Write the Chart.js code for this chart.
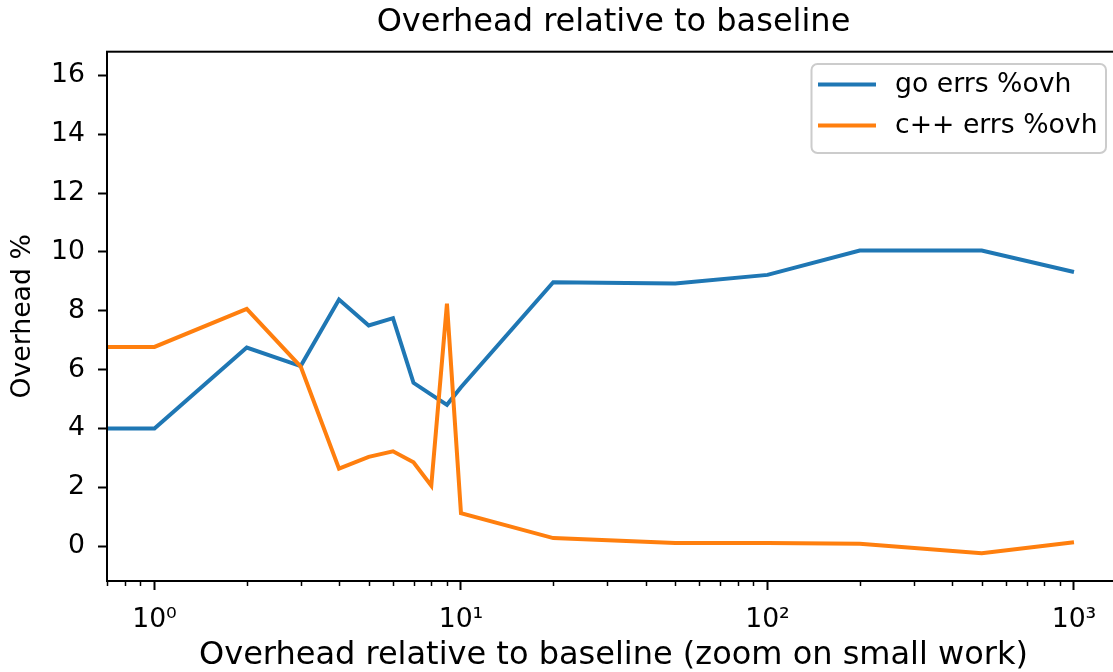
<!DOCTYPE html>
<html>
<head>
<meta charset="utf-8">
<script src="https://cdn.jsdelivr.net/npm/chart.js@4.4.1/dist/chart.umd.min.js"></script>
<style>
  html, body { margin: 0; padding: 0; background: #fff; overflow: hidden; }
  #wrap { width: 1130px; height: 672px; }
</style>
</head>
<body>
<div id="wrap"><canvas id="chart" width="1130" height="672"></canvas></div>
<script>
// Data
const xValues = [0, 1, 2, 3, 4, 5, 6, 7, 8, 9, 10, 20, 50, 100, 200, 500, 1000];
const goOvh = [4.0, 4.0, 6.75, 6.12, 8.38, 7.5, 7.75, 5.55, 5.15, 4.8, 5.4, 8.97, 8.93, 9.22, 10.05, 10.05, 9.32];
const cppOvh = [6.77, 6.77, 8.06, 6.1, 2.63, 3.03, 3.22, 2.85, 2.05, 8.24, 1.12, 0.27, 0.1, 0.1, 0.08, -0.25, 0.13];
const seriesNames = ['go errs %ovh', 'c++ errs %ovh'];
const yTicks = [0, 2, 4, 6, 8, 10, 12, 14, 16];
const xTickLabels = ['10\u2070', '10\u00b9', '10\u00b2', '10\u00b3'];
const chartTitle = 'Overhead relative to baseline';

const FONT = 'DejaVu Sans';
const BLUE = '#1f77b4';
const ORANGE = '#ff7f0e';

function isPow10(v) {
    const e = Math.log10(v);
    return Math.abs(e - Math.round(e)) < 1e-9;
}

// all 1..9 x 10^k inside the axis range
function logTicks(min, max) {
    const out = [];
    for (let k = -1; k <= 3; k++) {
        for (let m = 1; m <= 9; m++) {
            const v = m * Math.pow(10, k);
            if (v >= min && v <= max) out.push({ value: v });
        }
    }
    return out;
}

// title centred over the axes, not the canvas
const axesTitlePlugin = {
    id: 'axesTitle',
    afterDraw(chart) {
        const { ctx, chartArea: a } = chart;
        ctx.save();
        ctx.font = '32px "' + FONT + '"';
        ctx.fillStyle = '#000';
        ctx.textAlign = 'center';
        ctx.textBaseline = 'middle';
        ctx.fillText(chartTitle, (a.left + a.right) / 2, 23);
        ctx.restore();
    }
};

// top/right spines like matplotlib
const framePlugin = {
    id: 'frame',
    afterDatasetsDraw(chart) {
        const { ctx, chartArea: a } = chart;
        ctx.save();
        ctx.strokeStyle = '#000';
        ctx.lineWidth = 2;
        ctx.strokeRect(a.left, a.top, a.right - a.left, a.bottom - a.top);
        ctx.restore();
    }
};

// short minor ticks on the log axis
const minorTicksPlugin = {
    id: 'minorTicks',
    afterDraw(chart) {
        const { ctx, chartArea: a } = chart;
        const xs = chart.scales.x;
        ctx.save();
        ctx.strokeStyle = '#000';
        ctx.lineWidth = 1.5;
        xs.ticks.forEach(t => {
            if (isPow10(t.value)) return;
            const px = Math.round(xs.getPixelForValue(t.value)) + 0.5;
            ctx.beginPath();
            ctx.moveTo(px, a.bottom);
            ctx.lineTo(px, a.bottom + 5);
            ctx.stroke();
        });
        ctx.restore();
    }
};

// legend box in the upper right corner of the axes
const boxLegendPlugin = {
    id: 'boxLegend',
    afterDraw(chart) {
        const { ctx } = chart;
        const colors = [BLUE, ORANGE];
        const x0 = 811.5, y0 = 64, w = 294.5, h = 89;
        ctx.save();
        ctx.fillStyle = 'rgba(255,255,255,0.8)';
        ctx.strokeStyle = '#cccccc';
        ctx.lineWidth = 2;
        ctx.beginPath();
        ctx.roundRect(x0, y0, w, h, 6);
        ctx.fill();
        ctx.stroke();
        ctx.font = '26.7px "' + FONT + '"';
        ctx.textBaseline = 'middle';
        ctx.textAlign = 'left';
        seriesNames.forEach((name, i) => {
            const y = 84.5 + i * 41;
            ctx.strokeStyle = colors[i];
            ctx.lineWidth = 4;
            ctx.beginPath();
            ctx.moveTo(818, y);
            ctx.lineTo(876, y);
            ctx.stroke();
            ctx.fillStyle = '#000';
            ctx.fillText(name, 895, y + 1);
        });
        ctx.restore();
    }
};

new Chart(document.getElementById('chart'), {
    type: 'line',
    data: {
        datasets: [
            {
                label: seriesNames[0],
                data: xValues.map((x, i) => ({ x: x, y: goOvh[i] })),
                borderColor: BLUE,
                borderWidth: 4,
                pointRadius: 0,
                tension: 0,
                fill: false,
                order: 1
            },
            {
                label: seriesNames[1],
                data: xValues.map((x, i) => ({ x: x, y: cppOvh[i] })),
                borderColor: ORANGE,
                borderWidth: 4,
                pointRadius: 0,
                tension: 0,
                fill: false,
                order: 0
            }
        ]
    },
    options: {
        responsive: false,
        animation: false,
        layout: { padding: { left: 0, right: 10, top: 51.7, bottom: 0 } },
        plugins: {
            legend: { display: false },
            tooltip: { enabled: false },
            title: { display: false }
        },
        scales: {
            x: {
                type: 'logarithmic',
                min: 0.708,
                max: 1413,
                afterBuildTicks: s => { s.ticks = logTicks(s.min, s.max); },
                afterFit: s => { s.height = 91; },
                ticks: {
                    autoSkip: false,
                    maxRotation: 0,
                    minRotation: 0,
                    color: '#000',
                    padding: 14,
                    font: { family: FONT, size: 26.7 },
                    callback: v => isPow10(v) ? xTickLabels[Math.round(Math.log10(v))] : ''
                },
                grid: {
                    drawOnChartArea: false,
                    drawTicks: true,
                    tickLength: 9,
                    tickWidth: 2,
                    tickColor: c => (c.tick && isPow10(c.tick.value)) ? '#000' : 'rgba(0,0,0,0)'
                },
                border: { display: true, color: '#000', width: 2 },
                title: {
                    display: true,
                    text: 'Overhead relative to baseline (zoom on small work)',
                    color: '#000',
                    font: { family: FONT, size: 32, lineHeight: 1 },
                    padding: { top: 0, bottom: 0 }
                }
            },
            y: {
                type: 'linear',
                min: -1.19,
                max: 16.81,
                afterBuildTicks: s => { s.ticks = yTicks.map(v => ({ value: v })); },
                afterFit: s => { s.width = 107; },
                ticks: {
                    color: '#000',
                    padding: 13,
                    font: { family: FONT, size: 26.7 },
                    callback: v => String(v)
                },
                grid: {
                    drawOnChartArea: false,
                    drawTicks: true,
                    tickLength: 9,
                    tickWidth: 2,
                    tickColor: '#000'
                },
                border: { display: true, color: '#000', width: 2 },
                title: {
                    display: true,
                    text: 'Overhead %',
                    color: '#000',
                    font: { family: FONT, size: 26.7, lineHeight: 1 },
                    padding: { top: 9.7, bottom: 0 }
                }
            }
        }
    },
    plugins: [axesTitlePlugin, framePlugin, minorTicksPlugin, boxLegendPlugin]
});
</script>
</body>
</html>
